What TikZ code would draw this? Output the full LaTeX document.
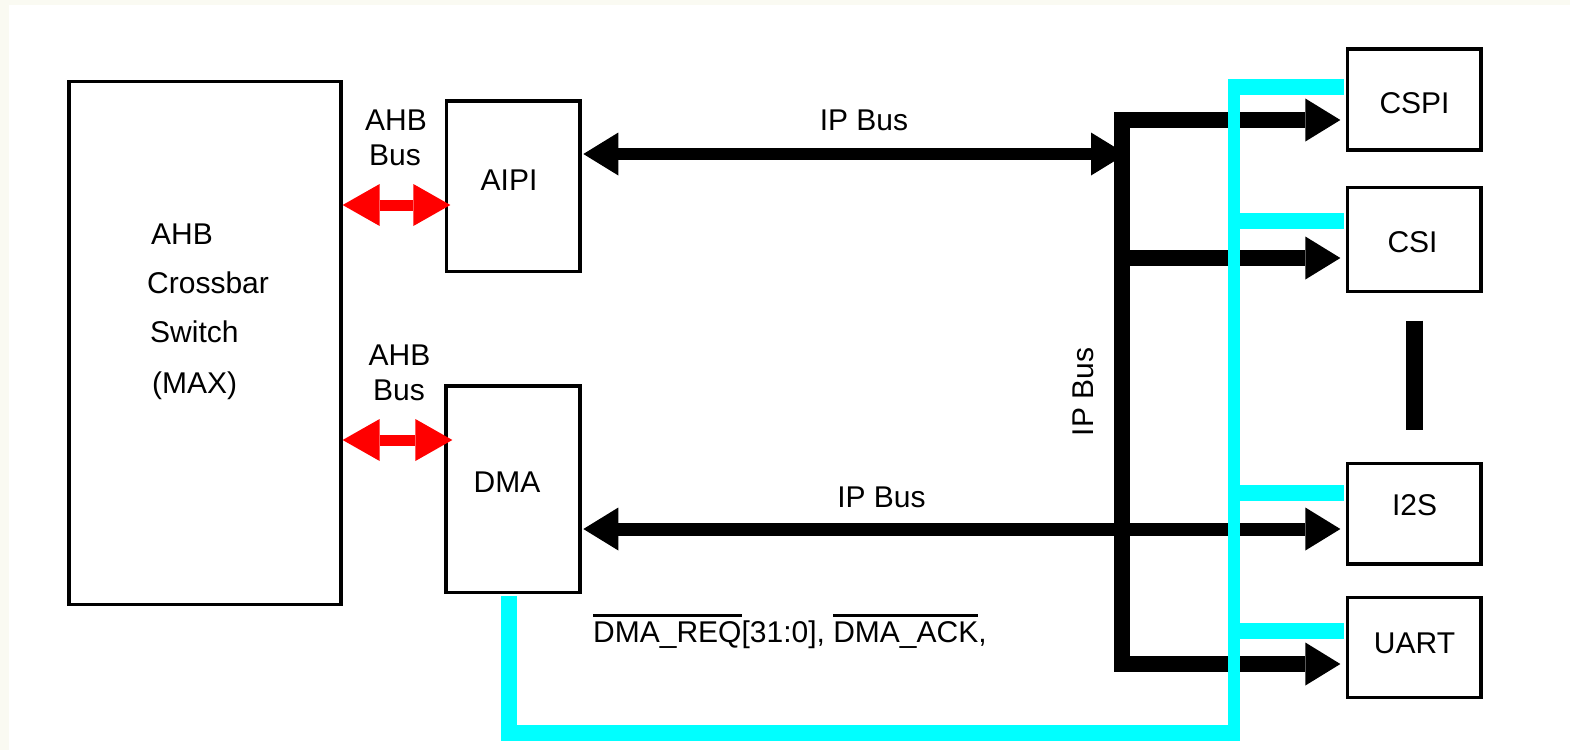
\documentclass[tikz,border=0pt]{standalone}
\usepackage{fontspec}
\setmainfont{Liberation Sans}
\usetikzlibrary{arrows.meta}
\definecolor{bgoff}{RGB}{250,250,242}
\definecolor{cyanline}{RGB}{0,255,255}
\definecolor{redline}{RGB}{255,0,0}
\newsavebox\olbox
\newcommand\olword[1]{\sbox\olbox{#1}\rlap{\rule[0.85em]{\wd\olbox}{3pt}}\usebox\olbox}
\tikzset{
  BT/.tip={Triangle[length=35pt,width=43pt,line width=0pt]},
  RT/.tip={Triangle[length=37pt,width=42pt,line width=0pt]},
  box/.style={draw=black, line width=3.3pt, rectangle, inner sep=0pt},
  lbl/.style={font=\fontsize{30}{35}\selectfont, inner sep=0pt, text=black},
  bus/.style={line width=16pt, black},
  ipbus/.style={line width=12pt, black},
  ahbarrow/.style={line width=11pt, redline},
  sig/.style={line width=16pt, cyanline},
  sigtrunk/.style={line width=12pt, cyanline},
  dotsbar/.style={line width=17pt, black}
}
\begin{document}
\begin{tikzpicture}[x=1pt,y=-1pt]
\useasboundingbox (0,0) rectangle (1570,750);
\fill[bgoff] (0,0) rectangle (1570,750);
\fill[white] (9,5) rectangle (1570,750);

% boxes
\node[box, minimum width=272pt, minimum height=523pt] (xbar) at (205,343) {};
\node[box, minimum width=133.5pt, minimum height=170.5pt] (aipi) at (513.25,186.25) {};
\node[box, minimum width=134pt, minimum height=206.5pt] (dma) at (513,489.25) {};
\node[box, minimum width=133.5pt, minimum height=101pt] (cspi) at (1414.25,99.5) {};
\node[box, minimum width=133.5pt, minimum height=104pt] (csi) at (1414.25,239.5) {};
\node[box, minimum width=133.5pt, minimum height=100.5pt] (i2s) at (1414.25,513.75) {};
\node[box, minimum width=133.5pt, minimum height=100pt] (uart) at (1414.25,647.5) {};

% red AHB arrows
\draw[ahbarrow, {RT}-{RT}] (xbar.east |- 0,205) -- ([xshift=5.5pt]aipi.west |- 0,205);
\draw[ahbarrow, {RT}-{RT}] (xbar.east |- 0,440) -- ([xshift=8pt]dma.west |- 0,440);

% IP bus arrows
\draw[ipbus, {BT}-{BT}] ([xshift=1.7pt]aipi.east |- 0,154) -- (1126,154);
\draw[ipbus, line width=13pt, {BT}-{BT}] ([xshift=1.7pt]dma.east |- 0,529) -- ([xshift=-5.5pt]i2s.west |- 0,529);

% vertical IP bus with branches
\coordinate (bt) at (1122,120);
\coordinate (bb) at (1122,664);
\draw[bus, {BT}-{BT}] ([xshift=-5.5pt]cspi.west |- bt) -- (bt) -- (bb) -- ([xshift=-5.5pt]uart.west |- bb);
\draw[bus, -{BT}] (bt |- 0,258) -- ([xshift=-5.5pt]csi.west |- 0,258);

% cyan DMA request lines
\coordinate (tb) at (1234,741);
\coordinate (tt) at (1234,79);
\draw[sig] ([xshift=-4pt,yshift=-1.65pt]dma.south) |- ([xshift=6pt,yshift=8pt]tb);
\draw[sigtrunk] (tb) -- (tt);
\draw[sig] ([xshift=-6pt,yshift=-8pt]tt) -- ([xshift=-1.65pt]cspi.west |- 0,87);
\draw[sig] (tt |- 0,221) -- ([xshift=-1.65pt]csi.west |- 0,221);
\draw[sig] (tt |- 0,493) -- ([xshift=-1.65pt]i2s.west |- 0,493);
\draw[sig] (tt |- 0,631) -- ([xshift=-1.65pt]uart.west |- 0,631);

% ellipsis bar between CSI and I2S
\draw[dotsbar, shorten <=27.5pt, shorten >=31.5pt] (csi.south) -- (i2s.north);

% texts
\node[lbl, anchor=base west] (xbart1) at (151,244) {AHB};
\node[lbl, anchor=base west] (xbart2) at (147,293) {Crossbar};
\node[lbl, anchor=base west] (xbart3) at (150,342) {Switch};
\node[lbl, anchor=base west] (xbart4) at (152,393.5) {(MAX)};

\node[lbl] (ahbaT) at (396,120) {AHB};
\node[lbl] (ahbaB) at (395,155) {Bus};
\node[lbl] (ahbbT) at (399.5,355) {AHB};
\node[lbl] (ahbbB) at (399,390.5) {Bus};

\node[lbl] (aipit) at (509,180) {AIPI};
\node[lbl] (dmat) at (507,482) {DMA};
\node[lbl] (cspit) at (1414.5,103) {CSPI};
\node[lbl] (csit) at (1412.5,242) {CSI};
\node[lbl] (i2st) at (1414.5,505) {I2S};
\node[lbl] (uartt) at (1414.5,643) {UART};

\node[lbl] (ipa) at (864,120) {IP Bus};
\node[lbl] (ipb) at (881.5,497) {IP Bus};
\node[lbl, rotate=90] (ipc) at (1083,392) {IP Bus};

\node[lbl, anchor=base west] (req) at (593,642) {\olword{DMA\_REQ}[31:0], \olword{DMA\_ACK},};
\end{tikzpicture}
\end{document}
